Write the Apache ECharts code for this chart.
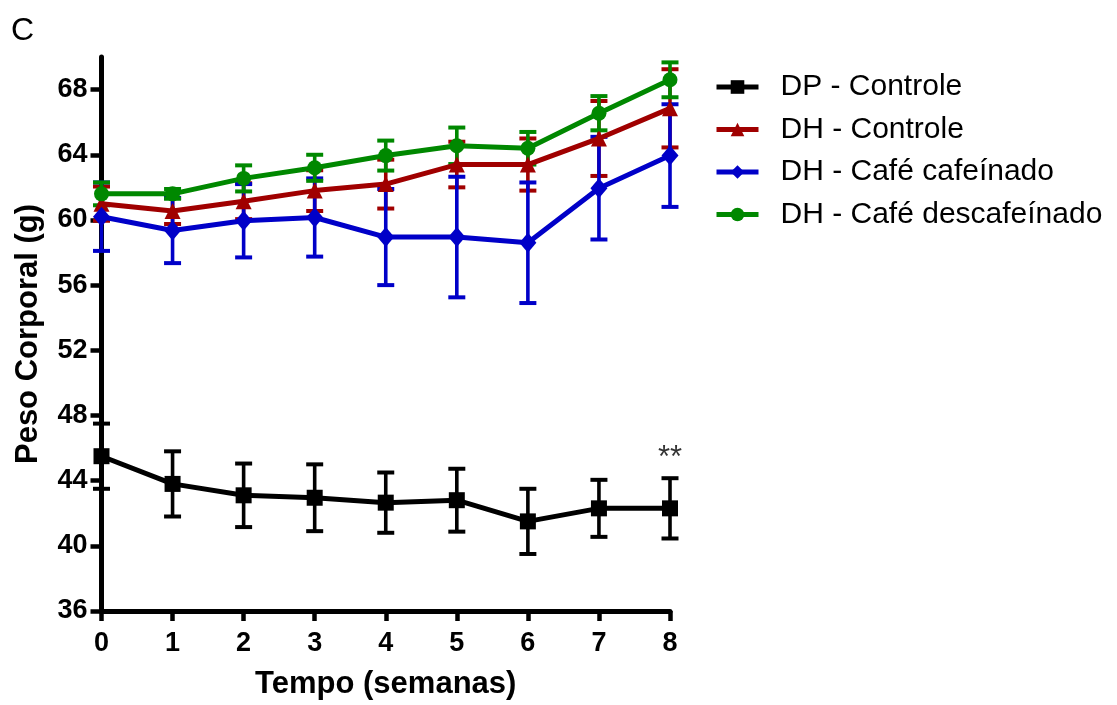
<!DOCTYPE html>
<html>
<head>
<meta charset="utf-8">
<script src="https://cdn.jsdelivr.net/npm/echarts@6/dist/echarts.min.js"></script>
<style>
  html, body { margin: 0; padding: 0; background: #fff; }
  #chart { width: 1117px; height: 705px; }
</style>
</head>
<body>
<div id="chart"></div>
<script>
// ---- data ----
const weeks = [0, 1, 2, 3, 4, 5, 6, 7, 8];
const yTicks = [36, 40, 44, 48, 52, 56, 60, 64, 68];

const seriesNames = ['DP - Controle', 'DH - Controle', 'DH - Café cafeínado', 'DH - Café descafeínado'];

const dpMean  = [45.5, 43.8, 43.1, 42.95, 42.65, 42.8, 41.5, 42.3, 42.3];
const dpSem   = [2.0, 2.0, 1.95, 2.05, 1.85, 1.93, 2.0, 1.75, 1.85];

const dhMean  = [61.0, 60.55, 61.15, 61.8, 62.2, 63.4, 63.4, 65.0, 66.85];
const dhSem   = [1.05, 0.8, 1.1, 1.25, 1.5, 1.4, 1.6, 2.3, 2.4];

const cafMean = [60.2, 59.35, 59.95, 60.15, 58.95, 58.95, 58.6, 61.95, 63.95];
const cafSem  = [2.1, 2.0, 2.25, 2.4, 2.95, 3.7, 3.7, 3.15, 3.15];

const decMean = [61.6, 61.6, 62.55, 63.2, 63.95, 64.55, 64.4, 66.55, 68.6];
const decSem  = [0.7, 0.3, 0.8, 0.8, 0.92, 1.12, 1.0, 1.05, 1.07];

const annotationWeek = 8;
const annotationValue = 45.35;
const annotationText = '**';

// ---- styling ----
const FONT = "'Liberation Sans', Arial, Helvetica, sans-serif";
const groups = [
  { name: seriesNames[0], mean: dpMean,  sem: dpSem,  color: '#000000', symbol: 'rect',     size: 16 },
  { name: seriesNames[1], mean: dhMean,  sem: dhSem,  color: '#A00000', symbol: 'triangle', size: 16 },
  { name: seriesNames[2], mean: cafMean, sem: cafSem, color: '#0000C8', symbol: 'diamond',  size: [17, 20] },
  { name: seriesNames[3], mean: decMean, sem: decSem, color: '#008800', symbol: 'circle',   size: 15 }
];

function errorRender(color) {
  return function (params, api) {
    const x = api.value(0);
    const lo = api.coord([x, api.value(1)]);
    const hi = api.coord([x, api.value(2)]);
    const half = 8.5;
    return {
      type: 'group',
      children: [
        { type: 'line', shape: { x1: lo[0], y1: lo[1], x2: hi[0], y2: hi[1] }, style: { stroke: color, lineWidth: 3.6, fill: null } },
        { type: 'line', shape: { x1: lo[0] - half, y1: lo[1], x2: lo[0] + half, y2: lo[1] }, style: { stroke: color, lineWidth: 4, fill: null } },
        { type: 'line', shape: { x1: hi[0] - half, y1: hi[1], x2: hi[0] + half, y2: hi[1] }, style: { stroke: color, lineWidth: 4, fill: null } }
      ]
    };
  };
}

const series = [];
groups.forEach(function (g) {
  series.push({
    name: g.name + ' SEM',
    type: 'custom',
    renderItem: errorRender(g.color),
    data: weeks.map(function (w, i) { return [w, g.mean[i] - g.sem[i], g.mean[i] + g.sem[i]]; }),
    encode: { x: 0, y: [1, 2] },
    silent: true
  });
  series.push({
    name: g.name,
    type: 'line',
    data: weeks.map(function (w, i) { return [w, g.mean[i]]; }),
    symbol: g.symbol,
    symbolSize: g.size,
    showAllSymbol: true,
    color: g.color,
    lineStyle: { color: g.color, width: 5 },
    itemStyle: { color: g.color, borderWidth: 0 },
    silent: true
  });
});

series.push({
  name: 'annotation',
  type: 'scatter',
  data: [[annotationWeek, annotationValue]],
  symbol: 'circle',
  symbolSize: 2,
  itemStyle: { color: 'rgba(0,0,0,0)' },
  label: {
    show: true,
    position: 'inside',
    formatter: annotationText,
    color: '#000000',
    textBorderWidth: 0,
    fontFamily: FONT,
    fontSize: 31
  },
  silent: true,
  z: 10
});

const chart = echarts.init(document.getElementById('chart'), null, { renderer: 'canvas' });
chart.setOption({
  animation: false,
  backgroundColor: '#ffffff',
  title: {
    text: 'C',
    left: 11,
    top: 15,
    padding: 0,
    textStyle: { fontFamily: FONT, fontSize: 32, fontWeight: 'normal', color: '#000' }
  },
  grid: { left: 101.5, right: 447, top: 57, bottom: 94, containLabel: false },
  legend: {
    data: seriesNames,
    orient: 'vertical',
    left: 709,
    top: 67,
    itemWidth: 42,
    itemHeight: 17,
    itemGap: 12.5,
    selectedMode: false,
    lineStyle: { width: 5 },
    textStyle: {
      fontFamily: FONT,
      fontSize: 30,
      color: '#000',
      lineHeight: 30,
      padding: [0, 0, 0, 17]
    }
  },
  xAxis: {
    type: 'value',
    min: 0,
    max: 8,
    interval: 1,
    name: 'Tempo (semanas)',
    nameLocation: 'middle',
    nameGap: 58,
    nameTextStyle: { fontFamily: FONT, fontSize: 31, fontWeight: 'bold', color: '#000' },
    axisLine: { onZero: false, lineStyle: { color: '#000', width: 5 } },
    axisTick: { show: true, inside: false, length: 10, lineStyle: { color: '#000', width: 4.5 } },
    axisLabel: { fontFamily: FONT, fontSize: 27, fontWeight: 'bold', color: '#000', margin: 19 },
    splitLine: { show: false }
  },
  yAxis: {
    type: 'value',
    min: 36,
    max: 70,
    interval: 4,
    name: 'Peso Corporal (g)',
    nameLocation: 'middle',
    nameGap: 58,
    nameTextStyle: { fontFamily: FONT, fontSize: 31, fontWeight: 'bold', color: '#000' },
    axisLine: { show: true, onZero: false, lineStyle: { color: '#000', width: 5 } },
    axisTick: { show: true, inside: false, length: 11, customValues: yTicks, lineStyle: { color: '#000', width: 4.5 } },
    axisLabel: { fontFamily: FONT, fontSize: 27, fontWeight: 'bold', color: '#000', margin: 14, customValues: yTicks },
    splitLine: { show: false }
  },
  series: series
});
</script>
</body>
</html>
